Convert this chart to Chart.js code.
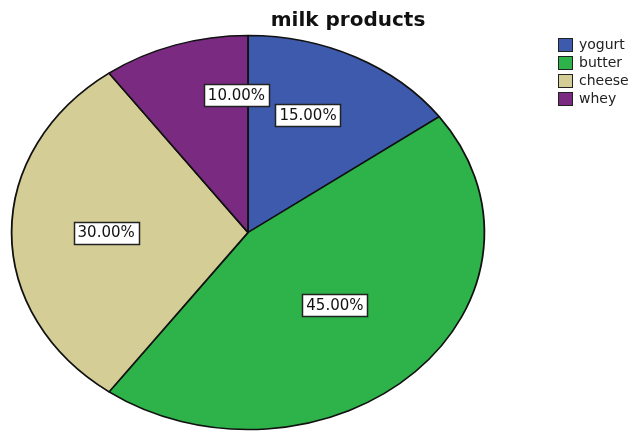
<!DOCTYPE html>
<html>
<head>
<meta charset="utf-8">
<script src="https://cdn.jsdelivr.net/npm/chart.js@4.4.1/dist/chart.umd.min.js"></script>
<style>
  html, body { margin: 0; padding: 0; background: #ffffff; }
  #wrap { width: 635px; height: 435px; }
</style>
</head>
<body>
<div id="wrap"><canvas id="pie" width="635" height="435"></canvas></div>
<script>
// data
const categories = ['yogurt', 'butter', 'cheese', 'whey'];
const percents = [15, 45, 30, 10];
const sliceColors = ['#3e5aad', '#2eb34a', '#d4ce96', '#7b2a82'];
const chartTitle = 'milk products';

// the reference pie is an ellipse, stretched sideways
const stretchX = 1.2;
// label placement: fraction of radius, angle nudge in degrees
const labelPlace = [[0.65, -4], [0.52, 0], [0.6, 0], [0.7, 14]];

const ellipsePlugin = {
    id: 'ellipse',
    beforeDatasetsDraw(chart) {
        const ctx = chart.ctx;
        const arc = chart.getDatasetMeta(0).data[0];
        ctx.save();
        ctx.translate(arc.x, arc.y);
        ctx.scale(stretchX, 1);
        ctx.translate(-arc.x, -arc.y);
    },
    afterDatasetsDraw(chart) {
        chart.ctx.restore();
    }
};

const decorPlugin = {
    id: 'decor',
    afterDraw(chart) {
        const ctx = chart.ctx;
        const meta = chart.getDatasetMeta(0);

        // percentage labels in white boxes
        ctx.save();
        ctx.font = '15px "DejaVu Sans"';
        ctx.textAlign = 'center';
        ctx.textBaseline = 'middle';
        meta.data.forEach((arc, i) => {
            const p = labelPlace[i];
            const mid = (arc.startAngle + arc.endAngle) / 2 + p[1] * Math.PI / 180;
            const r = arc.outerRadius * p[0];
            const x = arc.x + Math.cos(mid) * r * stretchX;
            const y = arc.y + Math.sin(mid) * r;
            const txt = percents[i].toFixed(2) + '%';
            const w = ctx.measureText(txt).width + 8;
            const h = 22;
            ctx.fillStyle = '#ffffff';
            ctx.fillRect(Math.round(x - w / 2) + 0.5, Math.round(y - h / 2) + 0.5, Math.round(w), h);
            ctx.strokeStyle = '#222222';
            ctx.lineWidth = 1.5;
            ctx.strokeRect(Math.round(x - w / 2) + 0.5, Math.round(y - h / 2) + 0.5, Math.round(w), h);
            ctx.fillStyle = '#111111';
            ctx.fillText(txt, x, y + 1);
        });
        ctx.restore();

        // title
        ctx.save();
        ctx.font = 'bold 20px "DejaVu Sans"';
        ctx.fillStyle = '#111111';
        ctx.textAlign = 'center';
        ctx.textBaseline = 'alphabetic';
        ctx.fillText(chartTitle, 348, 26);
        ctx.restore();

        // legend
        ctx.save();
        ctx.font = '14px "DejaVu Sans"';
        ctx.textBaseline = 'middle';
        categories.forEach((name, i) => {
            const y = 38 + i * 18;
            ctx.fillStyle = sliceColors[i];
            ctx.fillRect(558.5, y + 0.5, 14, 13);
            ctx.strokeStyle = '#222222';
            ctx.lineWidth = 1;
            ctx.strokeRect(558.5, y + 0.5, 14, 13);
            ctx.fillStyle = '#222222';
            ctx.fillText(name, 579, y + 7);
        });
        ctx.restore();
    }
};

new Chart(document.getElementById('pie'), {
    type: 'pie',
    data: {
        labels: categories,
        datasets: [{
            data: percents,
            backgroundColor: sliceColors,
            borderColor: '#111111',
            borderWidth: 1.5
        }]
    },
    options: {
        responsive: false,
        animation: false,
        radius: 197,
        layout: { padding: { left: 0, right: 139, top: 30, bottom: 0 } },
        plugins: {
            legend: { display: false },
            title: { display: false },
            tooltip: { enabled: false }
        }
    },
    plugins: [ellipsePlugin, decorPlugin]
});
</script>
</body>
</html>
